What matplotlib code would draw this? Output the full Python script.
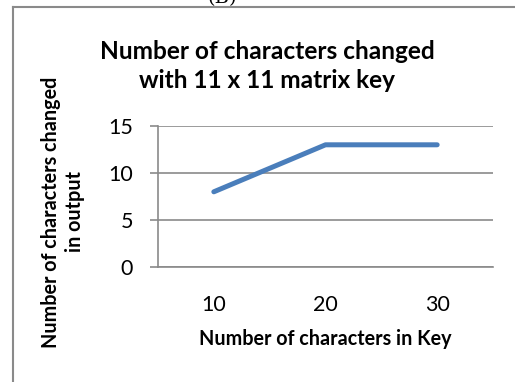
import matplotlib
matplotlib.use("Agg")
import matplotlib.pyplot as plt
from matplotlib.lines import Line2D

categories = ["10", "20", "30"]
values = [8, 13, 13]
yticks = [0, 5, 10, 15]

W, H = 515, 382
fig = plt.figure(figsize=(W / 100, H / 100), dpi=100)
FONT = "Lato"

def fx(px):
    return px / W

def fy(py):
    return 1 - py / H

# outer chart border (partially visible)
fig.add_artist(Line2D([fx(13), fx(13)], [fy(7), fy(400)], color="#8a8a8a", lw=1.5, transform=fig.transFigure))
fig.add_artist(Line2D([fx(13), fx(530)], [fy(7), fy(7)], color="#8a8a8a", lw=1.5, transform=fig.transFigure))

# caption above the chart, clipped at the top as in the reference
fig.text(fx(222), fy(3), "(B)", ha="center", va="baseline", family="DejaVu Serif", fontsize=14, color="black")

ax = fig.add_axes([fx(158), fy(267), fx(493) - fx(158), fy(126) - fy(267)])
x = list(range(len(categories)))
ax.plot(x, values, color="#4a7ebb", lw=3.6, solid_capstyle="round", solid_joinstyle="round", zorder=3)
ax.set_xlim(-0.5, len(categories) - 0.5)
ax.set_ylim(0, 15)
ax.set_yticks(yticks)
ax.set_yticklabels([str(v) for v in yticks], family=FONT, fontsize=15.5)
ax.set_xticks(x)
ax.set_xticklabels(categories, family=FONT, fontsize=15.5)
ax.grid(axis="y", color="#8a8a8a", lw=1.2)
ax.set_axisbelow(True)
for s in ["top", "right"]:
    ax.spines[s].set_visible(False)
ax.spines["left"].set_color("#8a8a8a")
ax.spines["left"].set_linewidth(1.2)
ax.spines["bottom"].set_color("#8a8a8a")
ax.spines["bottom"].set_linewidth(1.2)
ax.tick_params(axis="y", length=6, width=1.2, color="#8a8a8a", pad=12)
ax.tick_params(axis="x", length=0, pad=20)

fig.text(fx(267), fy(88), "Number of characters changed\nwith 11 x 11 matrix key", ha="center", va="baseline",
         family=FONT, fontweight="bold", fontsize=17.6, linespacing=1.32, multialignment="center")
fig.text(fx(325), fy(339), "Number of characters in Key", ha="center", va="center",
         family=FONT, fontweight="bold", fontsize=14.2)
fig.text(fx(63), fy(212), "Number of characters changed\nin output", ha="center", va="center", rotation=90,
         family=FONT, fontweight="bold", fontsize=14.2, linespacing=1.25, multialignment="center")

fig.savefig("out.png", dpi=100)
